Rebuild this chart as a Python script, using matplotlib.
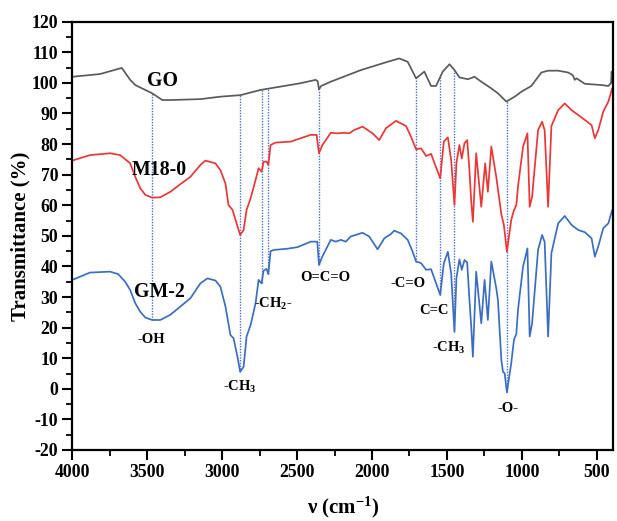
import numpy as np
import matplotlib
matplotlib.use("Agg")
import matplotlib.pyplot as plt
from matplotlib.ticker import MultipleLocator

plt.rcParams['font.family'] = ['Liberation Serif', 'DejaVu Serif']
plt.rcParams['font.weight'] = 'bold'
plt.rcParams['axes.unicode_minus'] = False
plt.rcParams['mathtext.fontset'] = 'custom'
plt.rcParams['mathtext.rm'] = 'Liberation Serif:bold'
plt.rcParams['mathtext.bf'] = 'Liberation Serif:bold'
plt.rcParams['mathtext.it'] = 'Liberation Serif:bold'
plt.rcParams['mathtext.default'] = 'bf'

# ---------------- data ----------------
wn_go = [4000, 3815, 3670, 3614, 3580, 3513, 3467, 3433, 3400, 3346, 3145, 3012,
         2878, 2744, 2610, 2477, 2376, 2362, 2354, 2340, 2275, 2074, 1896, 1818,
         1762, 1706, 1651, 1606, 1573, 1528, 1483, 1450, 1417, 1360, 1316, 1271,
         1204, 1160, 1104, 1048, 1004, 937, 870, 825, 758, 691, 660, 647, 635,
         580, 468, 423, 405, 401, 396, 390]
go = [102.0, 102.9, 104.9, 101.0, 99.3, 97.7, 96.6, 95.5, 94.4, 94.4, 94.7, 95.5,
      96.0, 97.7, 98.8, 99.9, 101.0, 100.5, 97.8, 99.0, 100.4, 104.2, 106.9, 108.0,
      106.9, 101.5, 103.7, 99.0, 99.0, 103.7, 106.1, 104.2, 101.8, 101.2, 102.0, 100.4,
      98.2, 96.6, 93.9, 95.5, 97.1, 99.0, 103.4, 104.0, 104.0, 103.4, 102.5, 101.0, 101.5,
      99.7, 99.3, 99.0, 100.0, 103.7, 100.0, 99.8]

wn_m18 = [4000, 3882, 3748, 3681, 3614, 3580, 3547, 3513, 3467, 3413, 3346, 3279,
          3212, 3145, 3112, 3045, 3012, 2978, 2958, 2931, 2904, 2880, 2857, 2837,
          2810, 2777, 2757, 2737, 2724, 2704, 2692, 2677, 2643, 2543, 2477, 2410,
          2370, 2354, 2331, 2275, 2230, 2186, 2153, 2119, 2063, 1996, 1952, 1907,
          1840, 1773, 1740, 1706, 1673, 1639, 1606, 1545, 1521, 1494, 1472, 1450,
          1437, 1417, 1401, 1383, 1365, 1350, 1338, 1327, 1305, 1271, 1245, 1227,
          1204, 1171, 1137, 1120, 1100, 1071, 1053, 1037, 1026, 992, 963, 948,
          932, 892, 865, 848, 825, 803, 758, 714, 669, 624, 580, 535, 513, 490,
          457, 423, 397, 390]
m18 = [74.6, 76.4, 77.0, 76.4, 73.7, 69.3, 65.6, 63.4, 62.5, 62.6, 64.4, 66.9,
       69.3, 73.2, 74.6, 73.7, 71.5, 67.1, 60.1, 58.5, 54.1, 50.3, 51.9, 58.5,
       62.3, 68.3, 72.1, 71.0, 74.2, 74.3, 73.2, 79.7, 80.5, 80.8, 81.9, 83.0,
       83.0, 77.0, 79.7, 83.7, 83.5, 83.7, 83.5, 84.6, 85.7, 83.5, 81.3, 85.2,
       87.6, 85.9, 82.4, 78.3, 78.6, 76.1, 76.8, 68.8, 80.8, 82.2, 74.8, 60.1,
       73.7, 79.7, 75.3, 80.3, 81.3, 71.5, 61.2, 54.6, 77.0, 59.5, 73.7, 64.4,
       79.2, 69.3, 57.0, 53.5, 44.8, 55.2, 58.4, 60.0, 66.1, 79.2, 83.5, 59.5,
       62.7, 84.6, 87.3, 84.5, 59.5, 85.9, 91.1, 93.3, 91.1, 89.5, 87.9, 86.2, 81.9, 84.6,
       90.6, 93.9, 98.2, 97.5]

wn_gm2 = [4000, 3882, 3748, 3694, 3647, 3614, 3580, 3547, 3513, 3467, 3413, 3346,
          3279, 3212, 3145, 3098, 3045, 3012, 2978, 2945, 2924, 2898, 2880, 2857,
          2837, 2810, 2777, 2757, 2737, 2724, 2704, 2692, 2677, 2655, 2565, 2498,
          2409, 2365, 2354, 2331, 2275, 2242, 2208, 2175, 2142, 2063, 2019, 1963,
          1918, 1874, 1852, 1807, 1762, 1729, 1706, 1673, 1639, 1606, 1545, 1521,
          1494, 1472, 1450, 1437, 1417, 1401, 1383, 1365, 1350, 1338, 1327, 1305,
          1271, 1249, 1227, 1204, 1171, 1160, 1137, 1126, 1115, 1100, 1071, 1053,
          1037, 1026, 992, 963, 948, 932, 892, 865, 848, 825, 803, 758, 714, 669,
          624, 580, 535, 513, 490, 457, 423, 397, 390]
gm2 = [35.6, 38.0, 38.3, 37.5, 35.0, 32.3, 28.0, 25.2, 23.3, 22.5, 22.5, 24.2,
       26.9, 29.6, 34.5, 36.1, 35.4, 33.4, 26.9, 17.6, 16.5, 10.5, 5.6, 7.2,
       17.1, 20.9, 28.0, 35.6, 34.5, 38.6, 39.2, 37.5, 45.0, 45.4, 45.8, 46.3,
       48.1, 48.1, 40.5, 43.3, 48.7, 48.1, 48.7, 48.1, 49.8, 51.0, 49.8, 45.6,
       49.2, 50.6, 51.7, 50.8, 48.7, 44.8, 41.6, 41.1, 38.9, 39.1, 30.7, 41.0,
       44.8, 37.7, 18.7, 36.1, 42.3, 38.9, 42.1, 41.3, 29.1, 20.3, 10.5, 38.3,
       21.4, 35.6, 22.5, 41.6, 32.9, 29.1, 9.4, 5.5, 5.1, -1.2, 8.4, 16.0,
       18.0, 25.8, 40.0, 45.9, 17.1, 21.4, 45.4, 50.3, 48.0, 17.1, 44.3, 54.1, 56.5, 53.6,
       51.9, 51.2, 49.2, 43.2, 46.6, 52.5, 54.1, 58.5, 57.5]

marker_wn = [3467, 2880, 2737, 2692, 2354, 1706, 1545, 1450, 1100]

sample_labels = ["GO", "M18-0", "GM-2"]
sample_pos = [(3396, 100.6), (3420, 71.5), (3420, 31.8)]

group_labels = ["-OH", "-CH$_3$", "-CH$_2$-", "O=C=O", "-C=O", "C=C", "-CH$_3$", "-O-"]
group_pos = [(3473, 16.2), (2884, 0.5), (2657, 27.7), (2309, 36.5),
             (1762, 34.5), (1589, 25.5), (1485, 13.3), (1091, -6.3)]

x_ticks = [4000, 3500, 3000, 2500, 2000, 1500, 1000, 500]
y_ticks = list(range(-20, 121, 10))

# ---------------- figure ----------------
fig = plt.figure(figsize=(6.17, 5.21), dpi=100)
ax = fig.add_axes([0.1172, 0.1363, 0.8768, 0.822])

c_go, c_m, c_gm = '#5a5a5a', '#ee3535', '#3a6ec4'
ax.plot(wn_go, go, color=c_go, lw=1.25)
ax.plot(wn_m18, m18, color=c_m, lw=1.25)
ax.plot(wn_gm2, gm2, color=c_gm, lw=1.25)

wn_go_r, go_r = np.array(wn_go)[::-1], np.array(go)[::-1]
wn_gm_r, gm_r = np.array(wn_gm2)[::-1], np.array(gm2)[::-1]
for w in marker_wn:
    top = np.interp(w, wn_go_r, go_r)
    bot = np.interp(w, wn_gm_r, gm_r)
    ax.vlines(w, bot, top, colors='#4a6fd0', linestyles=(0, (1, 1)), lw=1.0, zorder=1)

for t, (x, y) in zip(sample_labels, sample_pos):
    ax.text(x, y, t, fontsize=14.3, fontweight='bold', ha='center', va='center')
for t, (x, y) in zip(group_labels, group_pos):
    ax.text(x, y, t, fontsize=10.5, fontweight='bold', ha='center', va='center')

ax.set_xlim(4000, 390)
ax.set_ylim(-20, 120)
ax.set_xticks(x_ticks)
ax.set_yticks(y_ticks)
ax.xaxis.set_minor_locator(MultipleLocator(250))
ax.yaxis.set_minor_locator(MultipleLocator(5))
ax.tick_params(which='major', direction='out', length=7, width=1.5, labelsize=12.8,
               top=False, right=False, pad=3)
ax.tick_params(which='minor', direction='out', length=4, width=1.3, top=False, right=False)
for lab in ax.get_xticklabels() + ax.get_yticklabels():
    lab.set_fontweight('bold')
for s in ax.spines.values():
    s.set_linewidth(1.6)

ax.set_ylabel("Transmittance (%)", fontsize=15, fontweight='bold', labelpad=1)
ax.set_xlabel(r"ν (cm$^{-1}$)", fontsize=15, fontweight='bold', labelpad=10)

fig.savefig("out.png", dpi=100)
